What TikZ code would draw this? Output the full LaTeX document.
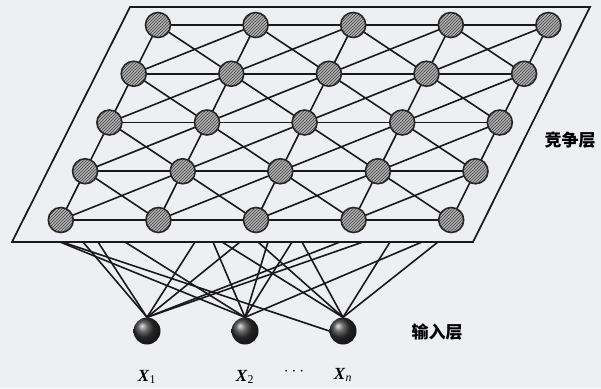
\documentclass[tikz,border=0pt]{standalone}
\usepackage{fontspec}
\setmainfont{Liberation Serif}
\newfontfamily\cjk{Noto Sans CJK SC}
\usetikzlibrary{patterns}
\definecolor{paper}{RGB}{238,239,242}
\pgfdeclarelayer{bg}
\pgfdeclarelayer{links}
\pgfsetlayers{bg,links,main}
\begin{document}
\begin{tikzpicture}[x=1pt,y=-1pt,
  link/.style={line width=1.6pt, black!90},
  plane/.style={line width=1.7pt, black!90},
  gnode/.style={circle, minimum size=25pt, inner sep=0pt, draw=black!85, line width=1.6pt,
    preaction={fill=gray!60}, pattern=north east lines, pattern color=black!75},
  inode/.style={circle, minimum size=27pt, inner sep=0pt, shading=ball, ball color=black!80},
  lab/.style={font=\fontsize{17}{19}\selectfont},
  cjklab/.style={font=\cjk\bfseries\fontsize{17}{19}\selectfont}]
\useasboundingbox (0,0) rectangle (601,388);
\begin{pgfonlayer}{bg}
  \fill[paper] (0,0) rectangle (601,388);
\end{pgfonlayer}
% competition grid nodes
\foreach \r in {0,...,4}{
  \foreach \c in {0,...,4}{
    \node[gnode] (g\r\c) at ({158+97.6*\c-24.3*\r},{25+48.75*\r}) {};
  }
}
% input nodes
\node[inode] (x1) at (147,331) {};
\node[inode] (x2) at (245,331) {};
\node[inode] (xn) at (343,331) {};
% edge points on the lower side of the plane
\foreach \p in {60,62,83,98,125,195,213,222,240,258,268,292,302,340,363,390,422,438}{
  \coordinate (e\p) at (\p,242);
}
\begin{pgfonlayer}{links}
  % plane
  \draw[plane] (12,242) -- (473,242) -- (590,7) -- (130,7) -- cycle;
  % grid links
  \foreach \r in {0,...,4}{
    \foreach \c [evaluate=\c as \cn using int(\c+1)] in {0,...,3}{
      \draw[link] (g\r\c.center) -- (g\r\cn.center);
    }
  }
  \foreach \r [evaluate=\r as \rn using int(\r+1)] in {0,...,3}{
    \foreach \c in {0,...,4}{
      \draw[link] (g\r\c.center) -- (g\rn\c.center);
    }
    \foreach \c [evaluate=\c as \cn using int(\c+1)] in {0,...,3}{
      \draw[link] (g\r\c.center) -- (g\rn\cn.center);
      \draw[link] (g\r\cn.center) -- (g\rn\c.center);
    }
  }
  % input links
  \foreach \p in {83,98,195,240,340,363}{ \draw[link] (x1.north) -- (e\p); }
  \foreach \p in {60,125,213,268,292,422}{ \draw[link] (x2.north) -- (e\p); }
  \foreach \p in {222,258,302,390,438}{ \draw[link] (xn.north) -- (e\p); }
  \draw[link] (xn.west) -- (e62);
\end{pgfonlayer}
% labels
\node[cjklab] (lc) at (570,140) {竞争层};
\node[cjklab] (li) at (437,332) {输入层};
\node[lab] (l1) at (147,377) {\textbf{\textit{X}}\textsubscript{1}};
\node[lab] (l2) at (245,377) {\textbf{\textit{X}}\textsubscript{2}};
\node[lab] (ld) at (294,372) {$\cdots$};
\node[lab] (ln) at (343,375) {\textbf{\textit{X}}\textsubscript{\textit{n}}};
\end{tikzpicture}
\end{document}
